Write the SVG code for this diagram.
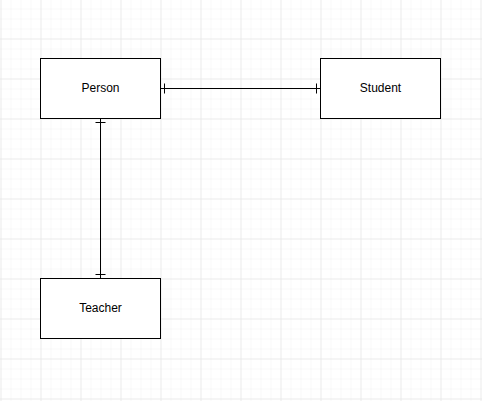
<svg xmlns="http://www.w3.org/2000/svg" width="482" height="401" viewBox="0 0 482 401">
  <defs>
    <pattern id="minor" x="0.5" y="-1.5" width="10" height="10" patternUnits="userSpaceOnUse">
      <path d="M0 0V10M0 0H10" fill="none" stroke="#f2f2f2" stroke-width="1"/>
    </pattern>
    <pattern id="major" x="0.5" y="-1.5" width="40" height="40" patternUnits="userSpaceOnUse">
      <path d="M0 0V40M0 0H40" fill="none" stroke="#e2e2e2" stroke-width="1"/>
    </pattern>
    <style>
      .node rect { fill: #ffffff; stroke: #000000; stroke-width: 1; }
      .node text { font-family: "Liberation Sans", Arial, sans-serif; font-size: 12px; fill: #000000; text-anchor: middle; dominant-baseline: central; }
      .edge { stroke: #000000; stroke-width: 1; fill: none; }
    </style>
  </defs>
  <rect width="482" height="401" fill="#ffffff"/>
  <rect width="482" height="401" fill="url(#minor)"/>
  <rect width="482" height="401" fill="url(#major)"/>

  <g id="connectors">
    <g id="person-student">
      <path class="edge" d="M160.5 88.5H320.5"/>
      <path class="edge" d="M164.5 83.5V93.5"/>
      <path class="edge" d="M316.5 83.5V93.5"/>
    </g>
    <g id="person-teacher">
      <path class="edge" d="M100.5 118.5V278.5"/>
      <path class="edge" d="M95.5 122.5H105.5"/>
      <path class="edge" d="M95.5 274.5H105.5"/>
    </g>
  </g>

  <g id="person" class="node">
    <rect x="40.5" y="58.5" width="120" height="60"/>
    <text x="100.5" y="87.5">Person</text>
  </g>
  <g id="student" class="node">
    <rect x="320.5" y="58.5" width="120" height="60"/>
    <text x="380.5" y="87.5">Student</text>
  </g>
  <g id="teacher" class="node">
    <rect x="40.5" y="278.5" width="120" height="60"/>
    <text x="100.5" y="307.5">Teacher</text>
  </g>
</svg>
